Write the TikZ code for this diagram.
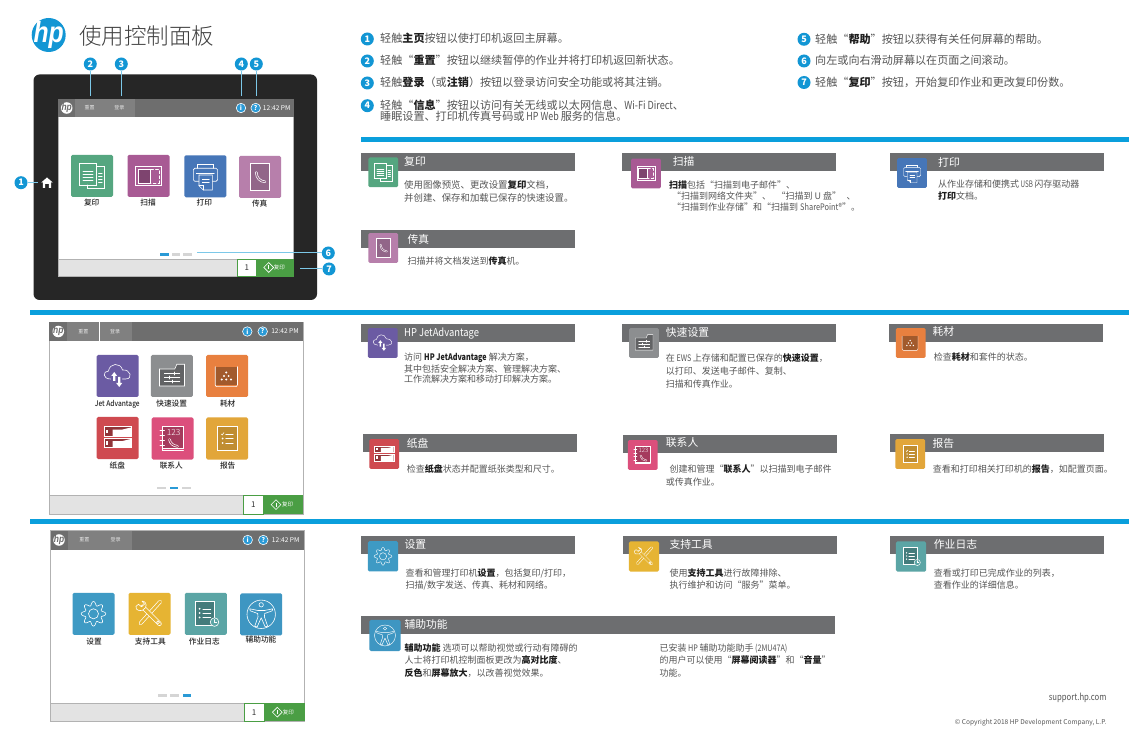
\documentclass[tikz,border=0pt]{standalone}
\usepackage{fontspec}
\usetikzlibrary{shapes.geometric}
\setmainfont{Noto Sans CJK SC}
\newfontfamily\hpfont{Liberation Sans}
\newfontfamily\medfont{Noto Sans CJK SC Medium}
\newfontfamily\lightfont{Noto Sans CJK SC Light}
\definecolor{hpblue}{HTML}{0A9FDC}
\definecolor{callblue}{HTML}{1296D4}
\definecolor{callline}{HTML}{7CC8E8}
\definecolor{barpanel}{HTML}{6E6E6E}
\definecolor{barlight}{HTML}{808080}
\definecolor{sechead}{HTML}{6D6E70}
\definecolor{bezel}{HTML}{262626}
\definecolor{bodygray}{HTML}{555555}
\definecolor{boldgray}{HTML}{1E1E1E}
\definecolor{btmgray}{HTML}{E3E3E3}
\definecolor{dotgray}{HTML}{D5D5D5}
\definecolor{dotblue}{HTML}{2A9AD6}
\definecolor{green1}{HTML}{4A9E44}
\definecolor{cCopy}{HTML}{55A680}
\definecolor{cScan}{HTML}{A85A94}
\definecolor{cPrint}{HTML}{4676B8}
\definecolor{cFax}{HTML}{B77FAB}
\definecolor{cJet}{HTML}{6B5BA3}
\definecolor{cQuick}{HTML}{8C8E90}
\definecolor{cSupp}{HTML}{E8803F}
\definecolor{cTray}{HTML}{CF4A50}
\definecolor{cCont}{HTML}{DC4F7C}
\definecolor{cRep}{HTML}{E2A63A}
\definecolor{cSet}{HTML}{3E9AC4}
\definecolor{cTool}{HTML}{E6B433}
\definecolor{cJob}{HTML}{5BA5A5}
\definecolor{cAcc}{HTML}{3E96C2}
\newcommand\bt[1]{{\bfseries\color{boldgray}#1}}
\newcommand\la[2][.85]{\scalebox{#1}[1]{#2}}
\newcounter{nd}
\newcommand\lbl[4]{\stepcounter{nd}\node[#1] (t\thend) at (#2,#3) {#4};}
% ---------- icons, drawn on a 42-unit tile centred on the origin
\newcommand\icCopy{%
 \draw (-12.7,-12.7) rectangle (4.7,9);
 \draw (-9,-5)--(1,-5) (-9,-2)--(1,-2) (-9,1)--(1,1) (-9,4)--(1,4);
 \draw (4.7,-10)--(12.3,-10)--(12.3,12.3)--(-5,12.3)--(-5,9);
 \draw (6.5,-3)--(10.2,-3) (6.5,0)--(10.2,0) (6.5,3)--(10.2,3) (6.5,6)--(10.2,6);}
\newcommand\icScan{%
 \draw (-13,-9.7) rectangle (12.7,9.7);
 \draw[fill=tc!75!black] (-10.5,-7) rectangle (2,7);
 \draw[densely dashed] (2,-7)--(10.3,-7)--(10.3,7)--(2,7);}
\newcommand\icPrint{%
 \draw (-8,-8)--(-8,-11.5)--(8,-11.5)--(8,-8);
 \draw[rounded corners=1.5] (-6.5,5)--(-12,5)--(-12,-8)--(12.3,-8)--(12.3,5)--(7,5);
 \draw (-9,-3)--(9,-3);
 \draw[fill=tc] (-6.3,-1.3)--(7,-1.3)--(7,13.7)--(-2,13.7)--(-6.3,9.5)--cycle;
 \draw (-2,13.7)--(-2,9.5)--(-6.3,9.5);
 \draw (-3,3)--(4,3) (-3,6)--(4,6);}
\newcommand\icFax{%
 \draw[fill=tc!80!black] (-9.3,-13.3) rectangle (9.3,13);
 \draw[double=tc!80!black,double distance=\is*1.1pt,line width=\is*.7pt] (-3.7,-4.5) .. controls (-3.5,1) and (0,4.5) .. (5,4.8);}
\newcommand\icJet{%
 \draw (-7,3) .. controls (-15,3) and (-15,-5) .. (-9,-5) .. controls (-8,-13) and (3,-14) .. (5,-6) .. controls (13,-7) and (16,3) .. (8,3)--(5,3);
 \fill[white] (-3.3,-4)--(-6.3,0)--(-4.4,0)--(-4.4,5)--(-2.2,5)--(-2.2,0)--(-0.3,0)--cycle;
 \fill[white] (1.7,11)--(-1.3,7)--(0.6,7)--(0.6,1)--(2.8,1)--(2.8,7)--(4.7,7)--cycle;}
\newcommand\icQuick{%
 \draw[fill=tc!70!black] (-12.3,-7)--(3,-7)--(5,-11.7)--(12.7,-11.7)--(12.7,10)--(-12.3,10)--cycle;
 \draw (-7.5,-2.5)--(8,-2.5) (-7.5,1.5)--(8,1.5) (-7.5,5.5)--(8,5.5);
 \draw[line width=\is*1.3pt] (3,-3.7)--(3,-1.3) (-2,.3)--(-2,2.7) (1,4.3)--(1,6.7);}
\newcommand\icSupp{%
 \fill[tc!70!black] (-12,-9.3) rectangle (10.3,9.3);
 \draw[rounded corners=2] (-12,-9.3)--(-12,10.7)--(10.3,10.7)--(10.3,-9.3);
 \foreach \a/\b in {-.9/-3.5,-3.2/0,1.4/0,-5.5/3.5,-.9/3.5,3.7/3.5}{\fill[white] (\a,\b) circle[radius=1.1];}}
\newcommand\icTray{%
 \draw[fill=tc!70!black] (-13.7,-11.3) rectangle (13.3,-2);
 \draw[fill=tc!70!black] (-13.7,.3) rectangle (13.3,9.7);
 \fill[white] (-5,-8.5)--(5,-8.5)--(13.3,-10.5)--(13.3,-2)--(-5,-2)--cycle;
 \fill[white] (-5,3)--(5,3)--(13.3,1)--(13.3,9.7)--(-5,9.7)--cycle;
 \fill[white] (-11.8,-8.3) rectangle (-9.3,-5);
 \fill[white] (-11.8,3.3) rectangle (-9.3,6.6);}
\newcommand\icCont{%
 \draw[fill=tc!75!black] (-10,-12) rectangle (11,10);
 \draw (-10,10)--(-10,12)--(11,12);
 \draw (-12.5,-8)--(-8,-8) (-12.5,-3)--(-8,-3) (-12.5,2)--(-8,2) (-12.5,7)--(-8,7);
 \draw[double=tc!75!black,double distance=\is*1.1pt,line width=\is*.7pt] (-3,1) .. controls (-2.5,5) and (1,7.5) .. (5,7.8);
 \stepcounter{nd}\node[transform shape,inner sep=0pt,text=white,font=\lightfont\fontsize{8.5}{8.5}\selectfont] (t\thend) at (1.2,-6.5) {123};}
\newcommand\icRep{%
 \draw[fill=tc!85!black] (-9.7,-12.3) rectangle (9.7,11.7);
 \draw (-1.5,-4.5)--(6,-4.5) (-1.5,0)--(6,0) (-1.5,4.5)--(6,4.5);
 \draw (-6,-4.5)--(-5,-3.5)--(-3.2,-6);
 \fill[white] (-4.5,0) circle[radius=1] (-4.5,4.5) circle[radius=1];}
\newcommand\icSet{%
 \draw[domain=0:360,samples=121,smooth] plot ({(10.3+2*cos(8*\x))*cos(\x)},{(10.3+2*cos(8*\x))*sin(\x)});
 \draw (0,0) circle[radius=5];}
\newcommand\icTool{%
 \draw[double=tc,double distance=\is*2.4pt,line width=\is*.7pt,line cap=round] (10.5,-12)--(-9,9.5);
 \draw[double=tc,double distance=\is*3pt,line width=\is*.7pt,line cap=round] (-7,-7)--(10,10);
 \draw[fill=tc] (-7.5,-12.7)--(-5,-9.7)--(-8,-7)--(-11,-9.5)--(-13.5,-7.5) .. controls (-14,-3) and (-10,-3) .. (-7,-3.5)--(-4,-6) .. controls (-2,-10) and (-5,-13) .. (-7.5,-12.7);
 \draw (8.5,8.5) circle[radius=1.4];}
\newcommand\icJob{%
 \draw[fill=tc!75!black] (-10.3,-12.7) rectangle (8.7,11.3);
 \draw (-3,-5)--(5,-5) (-3,-.7)--(5,-.7) (-3,3.6)--(5,3.6);
 \fill[white] (-6.2,-5) circle[radius=1] (-6.2,-.7) circle[radius=1] (-6.2,3.6) circle[radius=1];
 \draw[fill=tc] (8.7,8.3) circle[radius=4.3];
 \draw (8.7,5.7)--(8.7,8.3)--(11,8.3);}
\newcommand\icAcc{%
 \draw (0,0) circle[radius=14.2];
 \draw (0,-9.5) circle[radius=2.2];
 \draw[line join=round] (-11.5,-5.5)--(-3.3,-3.8)--(3.3,-3.8)--(11.5,-5.5)--(11,-3.5)--(3.5,-.8)--(3.2,2.5)--(6.5,12)--(4,12.5)--(0,3.5)--(-4,12.5)--(-6.5,12)--(-3.2,2.5)--(-3.5,-.8)--(-11,-3.5)--cycle;}
% ---------- repeating parts
\newcommand\mytile[6]{%
 \node[tilebox,minimum size=#4*42pt,fill=#5] (#1) at (#2,#3) {};
 \begin{scope}[shift={(#2,#3)},scale=#4]
  \def\is{#4}\colorlet{tc}{#5}
  \begin{scope}[draw=white,line width=#4*.6pt,line cap=round]#6\end{scope}
 \end{scope}}
\newcommand\hplogo[6]{%
 \begin{scope}[shift={(#2,#3)},scale=#4]
  \node[circle,fill=#5,minimum size=34pt,inner sep=0pt,transform shape] (#1) at (0,0) {};
  \node[inner sep=0pt,transform shape,text=#6,font=\hpfont\bfseries\itshape\fontsize{26}{26}\selectfont] (#1txt) at (0,-.5) {\scalebox{.95}[1.12]{hp}};
 \end{scope}}
\newcommand\scrframe[7]{%
 \path[fill=white,draw=black!30,line width=.6pt] (#1,#2) rectangle (#3,#4);
 \path[fill=barpanel] (#1,#2) rectangle (#3,#5);
 \path[fill=barlight] (#6,#2) rectangle (#7,#5);}
\newcommand\scrtop[8]{%
 \hplogo{#1logo}{#3}{#2}{.34}{white}{barpanel}
 \node[btn] (#1re) at (#4,#2) {重置};
 \node[btn] (#1lg) at (#5,#2) {登录};
 \node[info] (#1in) at (#6,#2) {i};
 \node[info] (#1he) at (#7,#2) {?};
 \node[clock] (#1ti) at (#8,#2) {12:42 PM};}
\newcommand\scrbottom[9]{%
 \path[fill=btmgray,draw=black!30,line width=.6pt] (#2,#3) rectangle (#7,#4);
 \node[onebox,minimum width=#6pt-#5pt,minimum height=#4pt-#3pt] (#1one) at ({(#5+#6)/2},{(#3+#4)/2}) {1};
 \path[fill=green1] (#6,#3) rectangle (#7,#4);
 \node[diamond,draw=white,line width=.6pt,minimum size=10pt,inner sep=0pt] (#1di) at (#8,{(#3+#4)/2}) {};
 \draw[white,line width=.8pt] (#8,{(#3+#4)/2-2}) -- (#8,{(#3+#4)/2+2});
 \node[gbtn] (#1co) at (#9,{(#3+#4)/2}) {复印};}
\newcommand\pagerdot[3]{\path[fill=#3] (#1,#2-1.3) rectangle ++(8.5,2.6);}
\newcommand\hdr[4]{\path[fill=sechead] (#1,#2) rectangle (#3,#4);}
\tikzset{
 tilebox/.style={rectangle,rounded corners=1.5pt,inner sep=0pt,outer sep=0pt},
 body/.style={anchor=base west,inner sep=0pt,text=bodygray,font=\fontsize{9}{11}\selectfont,yshift=-3.3pt},
 bodylg/.style={body,font=\fontsize{9.4}{11}\selectfont},
 lead/.style={anchor=base west,inner sep=0pt,text=bodygray,font=\fontsize{11.1}{12}\selectfont,yshift=-4pt},
 head/.style={anchor=base west,inner sep=0pt,text=white,font=\fontsize{10.8}{12}\selectfont,yshift=-3.9pt},
 tlab/.style={anchor=base,inner sep=0pt,text=black!85,font=\medfont\fontsize{7.7}{9}\selectfont,yshift=-2.7pt},
 btn/.style={inner sep=0pt,text=white!90!black,font=\fontsize{5}{5}\selectfont},
 gbtn/.style={inner sep=0pt,text=white,font=\fontsize{5.5}{5.5}\selectfont},
 clock/.style={inner sep=0pt,text=white,font=\fontsize{6.6}{7}\selectfont},
 info/.style={circle,fill=dotblue,draw=white,line width=.6pt,minimum size=9.5pt,inner sep=0pt,text=white,font=\bfseries\fontsize{6.5}{6.5}\selectfont},
 onebox/.style={rectangle,fill=white,inner sep=0pt,text=black!80,font=\fontsize{8}{8}\selectfont},
 callout/.style={circle,fill=callblue,minimum size=13pt,inner sep=0pt,text=white,font=\bfseries\fontsize{9}{9}\selectfont},
 callwire/.style={draw=callline,line width=1pt},
}
\begin{document}
\begin{tikzpicture}[x=1pt,y=-1pt]
\useasboundingbox[fill=white] (0,0) rectangle (1144,735);
% title
\hplogo{mainlogo}{48.7}{35}{1}{callblue}{white}
\node[anchor=west,inner sep=0pt,text=black!75,font=\lightfont\fontsize{22.5}{26}\selectfont] (title) at (79,36) {使用控制面板};
% blue rules
\path[fill=hpblue] (361,137) rectangle (1129,142);
\path[fill=hpblue] (30,310.5) rectangle (1129,315.5);
\path[fill=hpblue] (30,519) rectangle (1129,524);
% ------ panel 1
\path[fill=bezel,rounded corners=6pt] (33.5,74.5) rectangle (317,300);
\scrframe{58}{99.5}{293.5}{276}{117}{75}{135}
\scrtop{sa}{108}{66.7}{89.7}{119.3}{241}{255.7}{276.7}
\mytile{sacopy}{92}{176}{1}{cCopy}{\icCopy}
\mytile{sascan}{148.5}{176}{1}{cScan}{\icScan}
\mytile{saprint}{205.3}{176.3}{1}{cPrint}{\icPrint}
\mytile{safax}{260}{177}{1}{cFax}{\icFax}
\lbl{tlab}{91.7}{202.7}{复印}
\lbl{tlab}{148}{202.7}{扫描}
\lbl{tlab}{204.3}{202.7}{打印}
\lbl{tlab}{259.7}{204}{传真}
\pagerdot{160}{254.3}{dotblue}\pagerdot{171.7}{254.3}{dotgray}\pagerdot{183}{254.3}{dotgray}
\scrbottom{sa}{58}{259}{276}{237.7}{256}{293.5}{268.7}{279.3}
\draw[green1,line width=.6pt] (237.7,259) rectangle (293.5,276);
% home button
\coordinate (homeend) at (38,182.7);
\fill[white] (47,177.5)--(52.8,182.5)--(51.2,182.5)--(51.2,188)--(48.8,188)--(48.8,184)--(45.2,184)--(45.2,188)--(42.8,188)--(42.8,182.5)--(41.2,182.5)--cycle;
% callouts
\node[callout] (c1) at (21,182.7) {1};
\node[callout] (c2) at (90.3,64) {2};
\node[callout] (c3) at (121.3,64) {3};
\node[callout] (c4) at (241.3,64) {4};
\node[callout] (c5) at (256.3,64) {5};
\node[callout] (c6) at (328.3,253) {6};
\node[callout] (c7) at (329,269) {7};
\coordinate (e2) at (90.3,96);
\coordinate (e3) at (121.3,96);
\coordinate (e4) at (241.3,96);
\coordinate (e5) at (256.3,96);
\coordinate (e6) at (196.7,253);
\coordinate (e7) at (300,269);
\draw[callwire] (c1) -- (homeend);
\draw[callwire] (c2) -- (e2);
\draw[callwire] (c3) -- (e3);
\draw[callwire] (c4) -- (e4);
\draw[callwire] (c5) -- (e5);
\draw[callwire] (c6) -- (e6);
\draw[callwire] (c7) -- (e7);
% list
\node[callout] (l1) at (367.3,39) {1};
\node[callout] (l2) at (367.3,61) {2};
\node[callout] (l3) at (367.3,83) {3};
\node[callout] (l4) at (367.3,105.7) {4};
\node[callout] (l5) at (804,39.3) {5};
\node[callout] (l6) at (804,61) {6};
\node[callout] (l7) at (804,82.5) {7};
\lbl{lead}{380}{39}{轻触\bt{主页}按钮以使打印机返回主屏幕。}
\lbl{lead}{380}{61}{轻触“\bt{重置}”按钮以继续暂停的作业并将打印机返回新状态。}
\lbl{lead}{380}{83}{轻触\bt{登录}（或\bt{注销}）按钮以登录访问安全功能或将其注销。}
\lbl{lead}{380}{105.5}{轻触“\bt{信息}”按钮以访问有关无线或以太网信息、\la[.82]{Wi-Fi Direct}、}
\lbl{lead}{380}{117}{睡眠设置、打印机传真号码或\la[.8]{ HP Web }服务的信息。}
\lbl{lead}{815}{39.3}{轻触“\bt{帮助}”按钮以获得有关任何屏幕的帮助。}
\lbl{lead}{815}{61}{向左或向右滑动屏幕以在页面之间滚动。}
\lbl{lead}{815}{82.5}{轻触“\bt{复印}”按钮，开始复印作业和更改复印份数。}
% section row 1
\hdr{361}{153}{575}{171}\hdr{622}{153}{836}{171}\hdr{890}{153}{1104}{171}\hdr{361}{230}{575}{248}
\mytile{scopy}{383.3}{172.3}{.71}{cCopy}{\icCopy}
\mytile{sscan}{646}{173.5}{.71}{cScan}{\icScan}
\mytile{sprint}{912}{173}{.71}{cPrint}{\icPrint}
\mytile{sfax}{383.3}{248}{.71}{cFax}{\icFax}
\lbl{head}{404}{161.3}{复印}
\lbl{head}{672.7}{162}{扫描}
\lbl{head}{938}{163}{打印}
\lbl{head}{407.3}{240}{传真}
\lbl{bodylg}{404}{185.7}{使用图像预览、更改设置\bt{复印}文档，}
\lbl{bodylg}{404}{198}{并创建、保存和加载已保存的快速设置。}
\lbl{body}{669}{185.7}{\bt{扫描}包括“扫描到电子邮件”、}
\lbl{body}{672}{196.7}{“扫描到网络文件夹”、\hspace{.6em}“扫描到 U 盘”\hspace{.6em}、}
\lbl{body}{672}{207.7}{“扫描到作业存储”和“扫描到 \la[.82]{SharePoint®}”。}
\lbl{body}{938}{184.7}{从作业存储和便携式\la[.7]{ USB }闪存驱动器}
\lbl{body}{938}{196}{\bt{打印}文档。}
\lbl{body}{407.3}{261.7}{扫描并将文档发送到\bt{传真}机。}
% ------ panel 2
\scrframe{49.3}{322.3}{303.3}{514}{341}{66.7}{131.7}
\draw[white,line width=.5pt] (99,322.3)--(99,341);
\scrtop{sb}{331.5}{58.3}{83.3}{115}{247.3}{262.7}{285}
\mytile{sbjet}{117.5}{376}{1}{cJet}{\icJet}
\mytile{sbquick}{171.8}{376}{1}{cQuick}{\icQuick}
\mytile{sbsupp}{227.2}{376}{1}{cSupp}{\icSupp}
\mytile{sbtray}{117.5}{438}{1}{cTray}{\icTray}
\mytile{sbcont}{172.5}{438.5}{1}{cCont}{\icCont}
\mytile{sbrep}{227.2}{438.5}{1}{cRep}{\icRep}
\lbl{tlab}{117.3}{403.7}{\la[.86]{Jet Advantage}}
\lbl{tlab}{171.7}{403.7}{快速设置}
\lbl{tlab}{227.7}{403.7}{耗材}
\lbl{tlab}{117.3}{465.3}{纸盘}
\lbl{tlab}{171.3}{465.3}{联系人}
\lbl{tlab}{227.7}{465.3}{报告}
\pagerdot{157.3}{488}{dotgray}\pagerdot{169.9}{488}{dotblue}\pagerdot{182}{488}{dotgray}
\scrbottom{sb}{49.3}{495.3}{514}{243.3}{263.3}{303.3}{276}{287.7}
\draw[green1,line width=.6pt] (243.3,495.3) rectangle (263.3,514);
% section rows 2-3
\hdr{361}{324}{575}{342}\hdr{622}{324}{836}{342}\hdr{889}{324}{1103}{342}
\hdr{363}{434}{577}{452}\hdr{623}{435}{837}{453}\hdr{890}{434}{1104}{452}
\mytile{sjet}{382.7}{343}{.71}{cJet}{\icJet}
\mytile{squick}{644}{343}{.71}{cQuick}{\icQuick}
\mytile{ssupp}{910.7}{343}{.71}{cSupp}{\icSupp}
\mytile{stray}{384.3}{454}{.71}{cTray}{\icTray}
\mytile{scont}{642.7}{455}{.71}{cCont}{\icCont}
\mytile{srep}{910.3}{454}{.71}{cRep}{\icRep}
\lbl{head}{404}{332.7}{\la[.87]{HP JetAdvantage}}
\lbl{head}{665.7}{332.7}{快速设置}
\lbl{head}{932.3}{332}{耗材}
\lbl{head}{406.7}{443.7}{纸盘}
\lbl{head}{665.7}{443}{联系人}
\lbl{head}{932.3}{443.5}{报告}
\lbl{body}{404}{357.7}{访问 \bt{\la[.8]{HP JetAdvantage}} 解决方案，}
\lbl{body}{404}{369}{其中包括安全解决方案、管理解决方案、}
\lbl{body}{404}{379.3}{工作流解决方案和移动打印解决方案。}
\lbl{body}{665.7}{358.7}{在\la[.8]{ EWS }上存储和配置已保存的\bt{快速设置}，}
\lbl{body}{665.7}{371.7}{以打印、发送电子邮件、复制、}
\lbl{body}{665.7}{384.3}{扫描和传真作业。}
\lbl{body}{933.7}{357.7}{检查\bt{耗材}和套件的状态。}
\lbl{body}{406.7}{468.7}{检查\bt{纸盘}状态并配置纸张类型和尺寸。}
\lbl{body}{669.3}{468.7}{创建和管理“\bt{联系人}”以扫描到电子邮件}
\lbl{body}{665.7}{481.7}{或传真作业。}
\lbl{body}{932.7}{468.7}{查看和打印相关打印机的\bt{报告}，如配置页面。}
% ------ panel 3
\scrframe{50.7}{530.7}{304}{721.3}{550}{67.7}{131.7}
\scrtop{sc}{540}{59}{84.3}{115.7}{247.7}{263.3}{285.7}
\mytile{scset}{93.5}{613.8}{1}{cSet}{\icSet}
\mytile{sctool}{149.5}{613.8}{1}{cTool}{\icTool}
\mytile{scjob}{205.8}{613.8}{1}{cJob}{\icJob}
\mytile{scacc}{261.2}{614.3}{1}{cAcc}{\icAcc}
\lbl{tlab}{94}{641.3}{设置}
\lbl{tlab}{150.3}{641.3}{支持工具}
\lbl{tlab}{204.3}{641.3}{作业日志}
\lbl{tlab}{261}{640}{辅助功能}
\pagerdot{158.3}{695.7}{dotgray}\pagerdot{170.3}{695.7}{dotgray}\pagerdot{182.5}{695.7}{dotblue}
\scrbottom{sc}{50.7}{703}{721.3}{244}{264.3}{304.7}{277.3}{288.3}
\draw[green1,line width=.6pt] (244,703) rectangle (264.3,721.3);
% section row 4
\hdr{361}{536}{575}{554}\hdr{623}{536}{837}{554}\hdr{890}{536}{1104}{554}\hdr{361}{615.7}{835.3}{633.5}
\mytile{sset}{383}{556.3}{.72}{cSet}{\icSet}
\mytile{stool}{644}{556.5}{.72}{cTool}{\icTool}
\mytile{sjob}{911}{556.5}{.72}{cJob}{\icJob}
\mytile{sacc}{385}{635.5}{.74}{cAcc}{\icAcc}
\lbl{head}{404.3}{545}{设置}
\lbl{head}{669.3}{545}{支持工具}
\lbl{head}{933.7}{545}{作业日志}
\lbl{head}{404.3}{624.3}{辅助功能}
\lbl{body}{405.3}{572.7}{查看和管理打印机\bt{设置}，包括复印/打印，}
\lbl{body}{405.3}{585}{扫描/数字发送、传真、耗材和网络。}
\lbl{body}{669.3}{572.7}{使用\bt{支持工具}进行故障排除、}
\lbl{body}{669.3}{585}{执行维护和访问“服务”菜单。}
\lbl{body}{933.7}{572.7}{查看或打印已完成作业的列表，}
\lbl{body}{933.7}{585}{查看作业的详细信息。}
\lbl{body}{404.3}{647.7}{\bt{辅助功能} 选项可以帮助视觉或行动有障碍的}
\lbl{body}{404.3}{660}{人士将打印机控制面板更改为\bt{高对比度}、}
\lbl{body}{404.3}{672.7}{\bt{反色}和\bt{屏幕放大}，以改善视觉效果。}
\lbl{body}{659.3}{647.7}{已安装\la[.8]{ HP }辅助功能助手\la[.8]{ (2MU47A)}}
\lbl{body}{659.3}{660}{的用户可以使用“\bt{屏幕阅读器}”和“\bt{音量}”}
\lbl{body}{659.3}{672.7}{功能。}
% footer
\node[anchor=base east,inner sep=0pt,text=bodygray,font=\fontsize{9.3}{11}\selectfont] (support) at (1106.7,700.5) {\la[.83]{support.hp.com}};
\node[anchor=base east,inner sep=0pt,text=bodygray,font=\fontsize{6.6}{8}\selectfont] (copyr) at (1106.7,724.7) {© Copyright 2018 HP Development Company, L.P.};
\end{tikzpicture}
\end{document}
